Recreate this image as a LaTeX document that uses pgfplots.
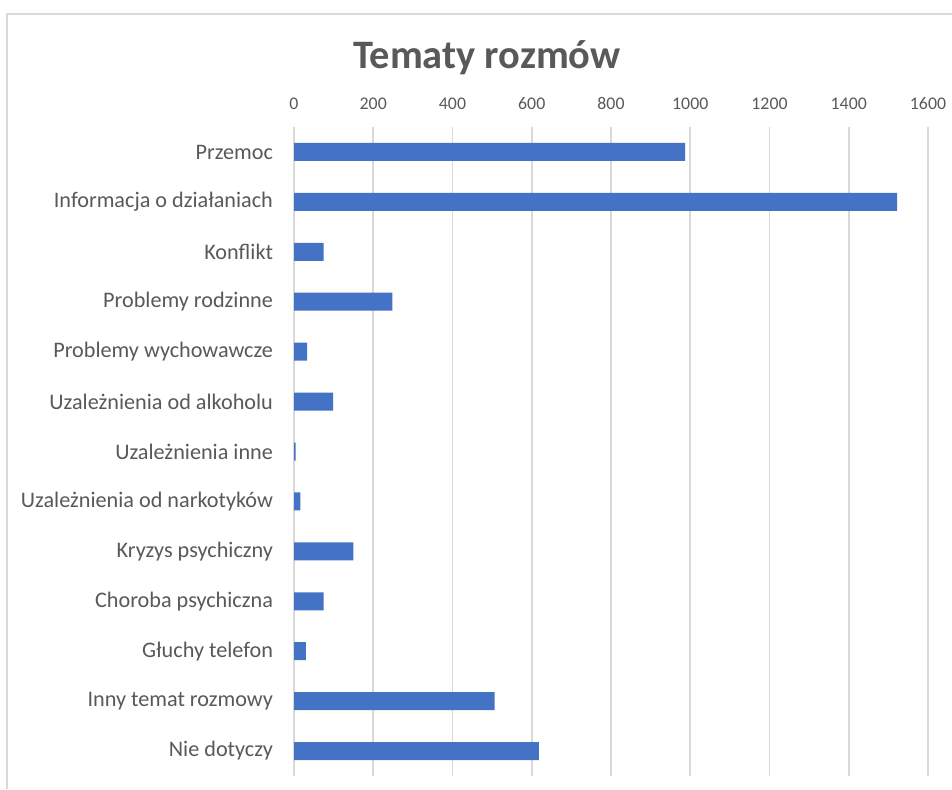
\documentclass[border=0pt]{standalone}
\usepackage{pgfplots}
\pgfplotsset{compat=1.18}
\usepackage{fontspec}
\setmainfont{Carlito}
\definecolor{barblue}{HTML}{4472C4}
\definecolor{txtgray}{HTML}{595959}
\definecolor{gridgray}{HTML}{D9D9D9}

\pgfplotstableread{
idx value
0 987
1 1522
2 75
3 248
4 33
5 99
6 4
7 16
8 150
9 75
10 30
11 506
12 618
}\topics

\begin{document}
\begin{tikzpicture}[x=0.5pt,y=0.5pt]
\useasboundingbox[fill=white] (0,0) rectangle (952,789);
\draw[gridgray,line width=1.2pt] (7,0) -- (7,775) -- (952,775);
\node[font=\bfseries\fontsize{20.2}{24}\selectfont,text=txtgray] at (487,731) {Tematy rozmów};
\begin{axis}[
    at={(147pt,6.5pt)}, anchor=south west,
    scale only axis,
    width=317pt, height=324.5pt,
    xbar, bar width=9pt,
    xmin=0, xmax=1600,
    ymin=-0.5, ymax=12.5,
    y dir=reverse,
    axis line style={draw=none},
    xticklabel pos=top,
    xtick={0,200,...,1600},
    major tick length=0pt,
    xmajorgrids, grid style={gridgray,line width=0.8pt},
    ytick={0,...,12},
    yticklabels={Przemoc,Informacja o działaniach,Konflikt,Problemy rodzinne,Problemy wychowawcze,Uzależnienia od alkoholu,Uzależnienia inne,Uzależnienia od narkotyków,Kryzys psychiczny,Choroba psychiczna,Głuchy telefon,Inny temat rozmowy,Nie dotyczy},
    yticklabel style={font=\fontsize{11.1}{13}\selectfont,text=txtgray,xshift=-7pt},
    xticklabel style={font=\fontsize{8.9}{11}\selectfont,text=txtgray,yshift=5pt},
    /pgf/number format/assume math mode=true,
    /pgf/number format/1000 sep={},
]
\addplot[fill=barblue,draw=none] table[x=value,y=idx] {\topics};
\end{axis}
\end{tikzpicture}
\end{document}
